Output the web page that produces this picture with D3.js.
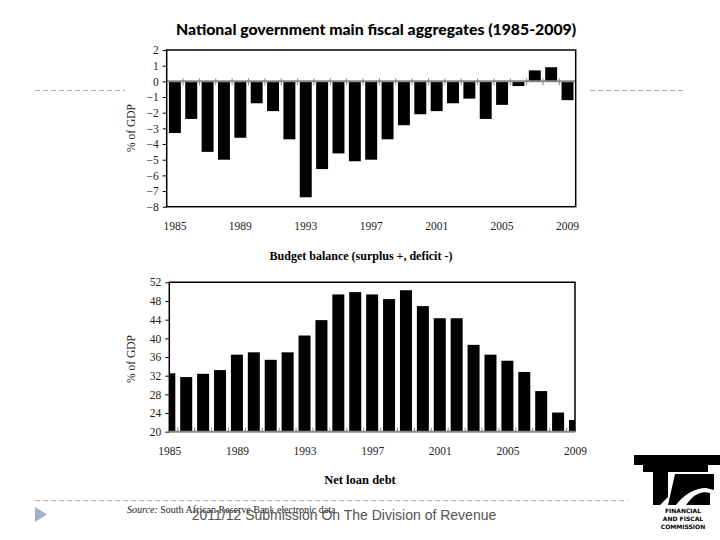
<!DOCTYPE html>
<html><head><meta charset="utf-8">
<script src="https://cdn.jsdelivr.net/npm/d3@7"></script>
<style>html,body{margin:0;padding:0;background:#fff;}svg{display:block;}</style>
</head><body>
<svg id="c" width="720" height="540"></svg>
<script>
const years = d3.range(1985, 2010);
const budgetBalance = [-3.3,-2.4,-4.5,-5.0,-3.6,-1.4,-1.9,-3.7,-7.4,-5.6,-4.6,-5.1,-5.0,-3.7,-2.8,-2.1,-1.9,-1.4,-1.1,-2.4,-1.5,-0.3,0.7,0.9,-1.2];
const netLoanDebt = [32.5,31.7,32.4,33.2,36.5,37.0,35.4,37.0,40.6,43.9,49.4,49.9,49.4,48.4,50.3,46.9,44.3,44.3,38.6,36.5,35.2,32.8,28.7,24.1,22.5];
const yearLabels = [1985,1989,1993,1997,2001,2005,2009];
const topTicks = [2,1,0,-1,-2,-3,-4,-5,-6,-7,-8];
const bottomTicks = [52,48,44,40,36,32,28,24,20];

const svg = d3.select("#c");
svg.append("rect").attr("width",720).attr("height",540).attr("fill","#fff");
const serif = "'Liberation Serif','DejaVu Serif',serif";

// slide decorations
const dash = "5,3";
svg.append("line").attr("x1",35).attr("x2",125).attr("y1",90.5).attr("y2",90.5).attr("stroke","#aaa").attr("stroke-dasharray",dash);
svg.append("line").attr("x1",590).attr("x2",686).attr("y1",90.5).attr("y2",90.5).attr("stroke","#aaa").attr("stroke-dasharray",dash);
svg.append("line").attr("x1",35).attr("x2",628).attr("y1",500.5).attr("y2",500.5).attr("stroke","#aaa").attr("stroke-dasharray",dash);
svg.append("path").attr("d","M35,507 L47,514.5 L35,522 Z").attr("fill","#9fb2c6");

// Title
svg.append("text").attr("x",376).attr("y",35).attr("text-anchor","middle")
  .attr("font-family","Lato,'Open Sans',sans-serif").attr("font-weight","900").attr("font-size",15.8)
  .attr("fill","#000").text("National government main fiscal aggregates (1985-2009)");

// ---------- Top chart ----------
const t = {l:166.7, r:575.7, t:50, b:206.7};
const xT = d3.scaleBand().domain(years).range([t.l,t.r]).paddingInner(0.27).paddingOuter(0.135);
const yT = d3.scaleLinear().domain([-8,2]).range([t.b,t.t]);
const gT = svg.append("g");
gT.selectAll("rect.bar").data(years).join("rect").attr("class","bar")
  .attr("x",d=>xT(d)).attr("width",xT.bandwidth())
  .attr("y",(d,i)=>yT(Math.max(0,budgetBalance[i])))
  .attr("height",(d,i)=>Math.abs(yT(budgetBalance[i])-yT(0)))
  .attr("fill","#000");
// zero axis (gray) with ticks at band boundaries
gT.append("line").attr("x1",t.l).attr("x2",t.r).attr("y1",yT(0)).attr("y2",yT(0)).attr("stroke","#888").attr("stroke-width",2);
gT.selectAll("line.xt").data(years.slice(1)).join("line").attr("class","xt")
  .attr("x1",d=>xT(d)-xT.step()*xT.paddingInner()/2).attr("x2",d=>xT(d)-xT.step()*xT.paddingInner()/2)
  .attr("y1",yT(0)-3).attr("y2",yT(0)+4).attr("stroke","#888").attr("stroke-width",1);
// frame
gT.append("rect").attr("x",t.l).attr("y",t.t).attr("width",t.r-t.l).attr("height",t.b-t.t)
  .attr("fill","none").attr("stroke","#000").attr("stroke-width",1.5);
// y axis
const yAxT = d3.axisLeft(yT).tickValues(topTicks).tickSize(4).tickFormat(d3.format("d"));
const yaT = gT.append("g").attr("transform",`translate(${t.l},0)`).call(yAxT);
yaT.select(".domain").remove();
yaT.selectAll("text").attr("font-family",serif).attr("font-size",11.5).attr("fill","#222").attr("dx",-1);
yaT.selectAll(".tick line").attr("stroke","#000");
// x labels
const xaT = gT.append("g").attr("transform",`translate(0,${t.b})`)
  .call(d3.axisBottom(xT).tickValues(yearLabels).tickSize(0).tickPadding(15));
xaT.select(".domain").remove();
xaT.selectAll("text").attr("font-family",serif).attr("font-size",11.5).attr("fill","#222");
svg.append("text").attr("transform","translate(135,128) rotate(-90)").attr("text-anchor","middle")
  .attr("font-family",serif).attr("font-size",11.5).attr("fill","#222").text("% of GDP");
svg.append("text").attr("x",361).attr("y",260).attr("text-anchor","middle")
  .attr("font-family",serif).attr("font-weight","bold").attr("font-size",12).attr("fill","#000")
  .text("Budget balance (surplus +, deficit -)");

// ---------- Bottom chart ----------
const b = {l:169.3, r:575, t:282.3, b:431.7};
const xB = d3.scalePoint().domain(years).range([b.l,b.r]);
const yB = d3.scaleLinear().domain([20,52]).range([b.b,b.t]);
const barW = 12;
svg.append("clipPath").attr("id","clipB").append("rect")
  .attr("x",b.l).attr("y",b.t).attr("width",b.r-b.l).attr("height",b.b-b.t);
const gB = svg.append("g");
gB.append("g").attr("clip-path","url(#clipB)").selectAll("rect").data(years).join("rect")
  .attr("x",d=>xB(d)-barW/2).attr("width",barW)
  .attr("y",(d,i)=>yB(netLoanDebt[i])).attr("height",(d,i)=>yB(20)-yB(netLoanDebt[i]))
  .attr("fill","#000");
// frame: top, left, right black; bottom gray axis
gB.append("path").attr("d",`M${b.l},${b.b} V${b.t} H${b.r} V${b.b}`).attr("fill","none").attr("stroke","#000").attr("stroke-width",1.5);
gB.append("line").attr("x1",b.l).attr("x2",b.r).attr("y1",b.b).attr("y2",b.b).attr("stroke","#888").attr("stroke-width",2);
gB.selectAll("line.xt").data(years.slice(1)).join("line").attr("class","xt")
  .attr("x1",d=>xB(d)-xB.step()/2).attr("x2",d=>xB(d)-xB.step()/2)
  .attr("y1",b.b-4).attr("y2",b.b).attr("stroke","#888").attr("stroke-width",1);
const yaB = gB.append("g").attr("transform",`translate(${b.l},0)`)
  .call(d3.axisLeft(yB).tickValues(bottomTicks).tickSize(4).tickFormat(d3.format("d")));
yaB.select(".domain").remove();
yaB.selectAll("text").attr("font-family",serif).attr("font-size",11.5).attr("fill","#222").attr("dx",-1);
yaB.selectAll(".tick line").attr("stroke","#000");
const xaB = gB.append("g").attr("transform",`translate(0,${b.b})`)
  .call(d3.axisBottom(xB).tickValues(yearLabels).tickSize(0).tickPadding(15));
xaB.select(".domain").remove();
xaB.selectAll("text").attr("font-family",serif).attr("font-size",11.5).attr("fill","#222");
svg.append("text").attr("transform","translate(135,359) rotate(-90)").attr("text-anchor","middle")
  .attr("font-family",serif).attr("font-size",11.5).attr("fill","#222").text("% of GDP");
svg.append("text").attr("x",360).attr("y",484).attr("text-anchor","middle")
  .attr("font-family",serif).attr("font-weight","bold").attr("font-size",12.5).attr("fill","#000")
  .text("Net loan debt");

// Source
const src = svg.append("text").attr("x",127).attr("y",513).attr("font-family",serif).attr("font-size",10).attr("fill","#222");
src.append("tspan").attr("font-style","italic").text("Source:");
src.append("tspan").text(" South African Reserve Bank electronic data");

// Footer
svg.append("text").attr("x",344).attr("y",520).attr("text-anchor","middle")
  .attr("font-family","'Liberation Sans',Arial,sans-serif").attr("font-size",14).attr("fill","#555")
  .text("2011/12 Submission On The Division of Revenue");

// Logo (FFC)
const lg = svg.append("g");
lg.append("path").attr("fill","#000").attr("d",
  "M634,455 H720 V465 H708 V472 H668 V497 L660,505 H653 V472 H643 V465 H634 Z");
lg.append("path").attr("fill","#000").attr("d",
  "M675,474 H714 V490 L706,488 C695,488 683,495 676,505 H668 Z");
lg.append("path").attr("fill","#000").attr("d",
  "M690,500 C696,493 704,491 710,493 V505 H686 Z");
const lt = lg.append("text").attr("font-family","'DejaVu Sans',sans-serif").attr("font-weight","bold")
  .attr("font-size",6).attr("fill","#000").attr("text-anchor","middle");
lt.append("tspan").attr("x",683).attr("y",513).text("FINANCIAL");
lt.append("tspan").attr("x",683).attr("y",521).text("AND FISCAL");
lt.append("tspan").attr("x",683).attr("y",529).text("COMMISSION");
</script>
</body></html>
